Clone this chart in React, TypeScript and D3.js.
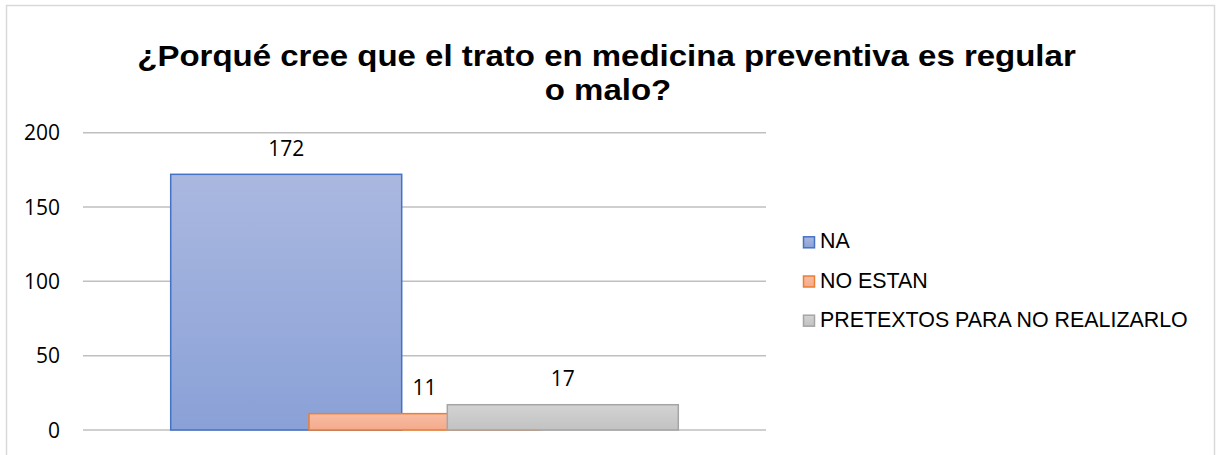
import React from "react";
import * as d3 from "d3";

const title = ["¿Porqué cree que el trato en medicina preventiva es regular", "o malo?"];
const series = ["NA", "NO ESTAN", "PRETEXTOS PARA NO REALIZARLO"];
const values = [172, 11, 17];
const yTicks = [0, 50, 100, 150, 200];

const fills = [
  ["#AAB8E0", "#8AA1D7"],
  ["#F8BCA3", "#F4AA8B"],
  ["#D3D3D3", "#C2C2C2"],
];
const strokes = ["#4472C4", "#ED7D31", "#A5A5A5"];

const W = 1217;
const H = 455;

export default function App() {
  const plot = { left: 83, right: 766, top: 132.7, bottom: 430 };
  const y = d3.scaleLinear().domain([0, 200]).range([plot.bottom, plot.top]);
  // single category; bars overlap with a fixed step between series
  const barW = 231;
  const step = 138.3;
  const groupW = barW + step * (series.length - 1);
  const start = (plot.left + plot.right) / 2 - groupW / 2;
  const x = d3.scaleLinear().domain([0, 1]).range([start, start + step]);

  const numFont = "'Open Sans', 'Noto Sans', sans-serif";
  const txtFont = "'Liberation Sans', Arial, sans-serif";
  const titleScale = 1.1;

  return (
    <svg width={W} height={H} style={{ position: "absolute", left: 0, top: 0, display: "block" }}>
      <defs>
        {fills.map((f, i) => (
          <linearGradient key={i} id={`g${i}`} x1="0" y1="0" x2="0" y2="1">
            <stop offset="0" stopColor={f[0]} />
            <stop offset="1" stopColor={f[1]} />
          </linearGradient>
        ))}
      </defs>
      <rect x={0} y={0} width={W} height={H} fill="#fff" />
      <rect x={6.5} y={5.5} width={1208} height={470} fill="#fff" stroke="#D9D9D9" strokeWidth={1.5} />
      <g fontFamily={txtFont} fontWeight="bold" fontSize={30} fill="#000" textAnchor="middle">
        <text transform={`translate(606.5,66) scale(${titleScale},1)`}>{title[0]}</text>
        <text transform={`translate(608,100) scale(${titleScale},1)`}>{title[1]}</text>
      </g>
      {yTicks.map((t) => (
        <g key={t}>
          <line x1={plot.left} x2={plot.right} y1={y(t)} y2={y(t)} stroke="#BFBFBF" strokeWidth={1.5} />
          <text
            x={60}
            y={y(t) + 7.5}
            textAnchor="end"
            fontFamily={numFont}
            fontSize={21}
            fill="#000"
          >
            {t}
          </text>
        </g>
      ))}
      {values.map((v, i) => (
        <rect
          key={series[i]}
          x={x(i)}
          y={y(v)}
          width={barW}
          height={y(0) - y(v)}
          fill={`url(#g${i})`}
          stroke={strokes[i]}
          strokeWidth={1.5}
        />
      ))}
      {values.map((v, i) => (
        <text
          key={`l${i}`}
          x={x(i) + barW / 2}
          y={y(v) - 18.5}
          textAnchor="middle"
          fontFamily={numFont}
          fontSize={21}
          fill="#000"
        >
          {v}
        </text>
      ))}
      {series.map((s, i) => (
        <g key={`lg${i}`} transform={`translate(803, ${248.3 + i * 39.2})`}>
          <rect x={0.5} y={-11.5} width={11} height={11} fill={`url(#g${i})`} stroke={strokes[i]} strokeWidth={1.5} />
          <text x={17} y={0} fontFamily={txtFont} fontSize={21.4} fill="#000">
            {s}
          </text>
        </g>
      ))}
    </svg>
  );
}
